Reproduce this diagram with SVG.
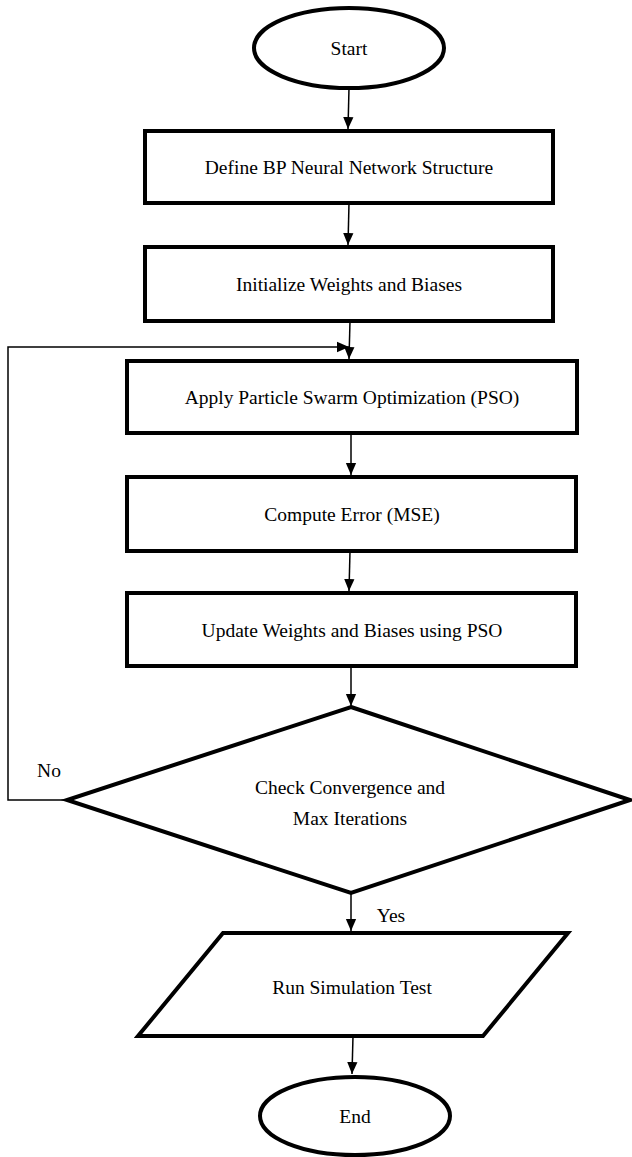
<svg xmlns="http://www.w3.org/2000/svg" width="632" height="1157" viewBox="0 0 632 1157">
<style>
.n{fill:#fff;stroke:#000;stroke-width:4;stroke-linejoin:miter}
.t{font-family:"Liberation Serif","Times New Roman",serif;font-size:19.5px;fill:#000;text-anchor:middle}
.c{fill:none;stroke:#000;stroke-width:1.5}
</style>
<defs>
<marker id="ah" markerUnits="userSpaceOnUse" markerWidth="12" markerHeight="14" refX="14" refY="6" orient="auto" viewBox="0 0 14 12">
<path d="M0,0 L14,6 L0,12 Z" fill="#000"/>
</marker>
</defs>
<rect width="632" height="1157" fill="#fff"/>
<g id="connectors">
<path class="c" d="M349,88 L348,129" marker-end="url(#ah)"/>
<path class="c" d="M349,203 L348,245" marker-end="url(#ah)"/>
<path class="c" d="M350,321 L349,359" marker-end="url(#ah)"/>
<path class="c" d="M67,800 L8,800 L8,347 L349,347" marker-end="url(#ah)"/>
<path class="c" d="M351,433 L351,475" marker-end="url(#ah)"/>
<path class="c" d="M350,551 L349,591" marker-end="url(#ah)"/>
<path class="c" d="M351,666 L351,706" marker-end="url(#ah)"/>
<path class="c" d="M351,893 L351,931" marker-end="url(#ah)"/>
<path class="c" d="M353,1036 L352,1074" marker-end="url(#ah)"/>
<text class="t" x="49" y="777">No</text>
<text class="t" x="391" y="922">Yes</text>
</g>
<g id="start">
<ellipse class="n" cx="349" cy="48" rx="95" ry="40"/>
<text class="t" x="349" y="55">Start</text>
</g>
<g id="define">
<rect class="n" x="145" y="131" width="408" height="72"/>
<text class="t" x="349" y="174">Define BP Neural Network Structure</text>
</g>
<g id="init">
<rect class="n" x="145" y="247" width="408" height="74"/>
<text class="t" x="349" y="291">Initialize Weights and Biases</text>
</g>
<g id="apply">
<rect class="n" x="127" y="361" width="450" height="72"/>
<text class="t" x="352" y="404">Apply Particle Swarm Optimization (PSO)</text>
</g>
<g id="compute">
<rect class="n" x="127" y="477" width="449" height="74"/>
<text class="t" x="352" y="521">Compute Error (MSE)</text>
</g>
<g id="update">
<rect class="n" x="127" y="593" width="449" height="73"/>
<text class="t" x="352" y="637">Update Weights and Biases using PSO</text>
</g>
<g id="check">
<polygon class="n" points="351,707 630,800 351,893 67,800"/>
<text class="t" x="350" y="794">Check Convergence and</text>
<text class="t" x="350" y="825">Max Iterations</text>
</g>
<g id="run">
<polygon class="n" points="223,933 568,933 483,1036 138,1036"/>
<text class="t" x="352" y="994">Run Simulation Test</text>
</g>
<g id="end">
<ellipse class="n" cx="355" cy="1116" rx="95" ry="39"/>
<text class="t" x="355" y="1123">End</text>
</g>
</svg>
